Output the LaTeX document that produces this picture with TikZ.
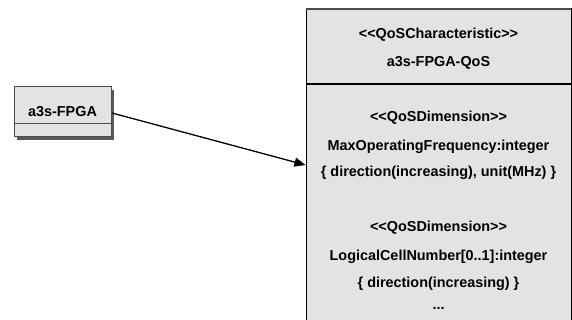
\documentclass[tikz,border=0pt]{standalone}
\usepackage{fontspec}
\setmainfont{Liberation Sans}
\usetikzlibrary{arrows.meta}
\begin{document}
\begin{tikzpicture}[x=1pt,y=-1pt,
  boxfill/.style={fill=black!11},
  txt/.style={font=\fontsize{14.4}{16}\selectfont\bfseries, inner sep=0pt, anchor=center},
  conn/.style={line width=1.3pt, -{Triangle[length=11pt,width=9pt]}}]
\useasboundingbox (0,0) rectangle (572,320);
% left class box with shadow
\fill[black!65] (17,90) rectangle (114,140);
\filldraw[boxfill, draw=black!70, line width=1pt] (14,87) rectangle (111,137);
\draw[black!70, line width=1pt] (14,124) -- (111,124);
\node[txt] (fpga) at (62.5,112) {a3s-FPGA};
\coordinate (fpgaR) at (112,113);
% QoS characteristic box
\filldraw[boxfill, draw=black, line width=1pt] (306,330) -- (306,9) -- (571,9) -- (571,330);
\draw[black!70, line width=2pt] (306,9) -- (571,9);
\draw[black, line width=1.2pt] (306,84) -- (571,84);
\coordinate (qosL) at (305.5,165);
\node[txt] (st) at (438.5,35) {{<}{<}QoSCharacteristic{>}{>}};
\node[txt] (nm) at (438.5,63) {a3s-FPGA-QoS};
\node[txt] (d1) at (438.5,118) {{<}{<}QoSDimension{>}{>}};
\node[txt] (a1) at (438.5,147) {MaxOperatingFrequency:integer};
\node[txt] (c1) at (438.5,173) {\{ direction(increasing), unit(MHz) \}};
\node[txt] (d2) at (438.5,228) {{<}{<}QoSDimension{>}{>}};
\node[txt] (a2) at (438.5,257) {LogicalCellNumber[0..1]:integer};
\node[txt] (c2) at (438.5,284) {\{ direction(increasing) \}};
\node[txt] (el) at (438.5,308) {...};
\draw[conn] (fpgaR) -- (qosL);
\end{tikzpicture}
\end{document}
